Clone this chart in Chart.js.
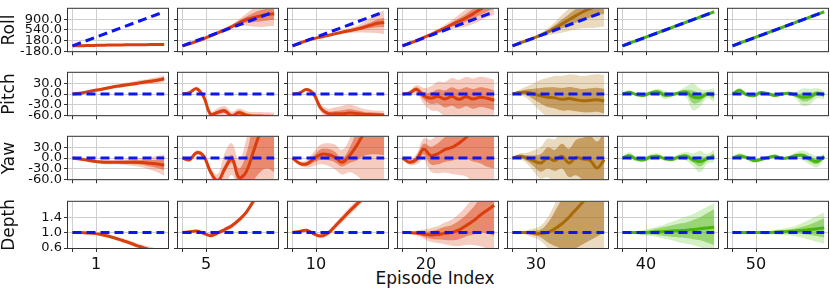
<!DOCTYPE html>
<html>
<head>
<meta charset="utf-8">
<script src="https://cdn.jsdelivr.net/npm/chart.js@4.4.0/dist/chart.umd.min.js"></script>
<style>
  html, body { margin: 0; padding: 0; background: #fff; }
  #grid { position: relative; width: 830px; height: 289px; overflow: hidden; }
  #grid canvas { position: absolute; }
  #xlabel { position: absolute; left: 335px; top: 268px; width: 200px; text-align: center;
            font: 17px "DejaVu Sans"; line-height: 20px; color: #111; }
</style>
</head>
<body>
<div id="grid"><div id="xlabel">Episode Index</div></div>
<script>
"use strict";

const EPISODES = ["1", "5", "10", "20", "30", "40", "50"];
const STEPS = [0, 3, 6, 9, 12, 15, 18, 21, 24, 27, 30, 33, 36, 39];
const REF_STEPS = [0, 39];
const STEP_TICKS = [0, 10];

const ROLL_TICKS = [-180, 180, 540, 900];
const ANGLE_TICKS = [-60, -30, 0, 30];
const DEPTH_TICKS = [0.6, 1.0, 1.4];

// blue dashed reference per row
const rollRef = [0, 1150];
const pitchRef = [0, 0];
const yawRef = [0, 0];
const depthRef = [1, 1];

// roll: mean, inner half-width, outer half-width
const rollMean_1 = [0, 5, 10, 15, 20, 25, 30, 32, 35, 38, 40, 42, 44, 45];
const rollInner_1 = [0, 3, 4, 5, 6, 6, 7, 7, 8, 8, 9, 9, 10, 10];
const rollOuter_1 = [0, 6, 8, 10, 12, 12, 14, 14, 16, 16, 18, 18, 20, 20];
const rollMean_5 = [0, 70, 150, 240, 340, 440, 540, 650, 780, 880, 950, 1010, 1055, 1080];
const rollInner_5 = [0, 5, 8, 10, 15, 20, 25, 35, 60, 100, 150, 190, 200, 200];
const rollOuter_5 = [0, 10, 15, 20, 30, 40, 55, 75, 120, 200, 300, 380, 400, 400];
const rollMean_10 = [0, 85, 175, 245, 300, 350, 405, 460, 510, 560, 620, 690, 760, 790];
const rollInner_10 = [0, 5, 8, 10, 12, 15, 20, 25, 35, 50, 70, 100, 130, 150];
const rollOuter_10 = [0, 10, 15, 20, 25, 30, 40, 55, 80, 110, 170, 250, 330, 400];
const rollMean_20 = [0, 85, 175, 280, 380, 490, 600, 720, 830, 945, 1080, 1230, 1380, 1500];
const rollInner_20 = [0, 5, 10, 15, 25, 35, 50, 70, 100, 130, 160, 190, 220, 250];
const rollOuter_20 = [0, 10, 20, 35, 55, 75, 110, 150, 220, 290, 340, 380, 420, 450];
const rollMean_30 = [0, 88, 176, 264, 360, 470, 600, 740, 880, 1020, 1150, 1260, 1360, 1450];
const rollInner_30 = [0, 5, 10, 20, 35, 60, 100, 150, 190, 230, 270, 310, 340, 370];
const rollOuter_30 = [0, 10, 20, 40, 70, 120, 200, 300, 380, 460, 560, 660, 740, 800];
const rollMean_40 = [0, 88, 177, 265, 354, 442, 531, 619, 708, 796, 885, 973, 1062, 1150];
const rollInner_40 = [0, 1, 2, 2, 3, 3, 4, 4, 5, 5, 6, 6, 7, 7];
const rollOuter_40 = [0, 2, 4, 4, 6, 6, 8, 8, 10, 10, 12, 12, 14, 14];
const rollMean_50 = [0, 88, 177, 265, 354, 442, 531, 619, 708, 796, 885, 973, 1062, 1150];
const rollInner_50 = [0, 1, 2, 2, 3, 3, 4, 4, 5, 5, 6, 6, 7, 7];
const rollOuter_50 = [0, 2, 4, 4, 6, 6, 8, 8, 10, 10, 12, 12, 14, 14];

// pitch
const pitchMean_1 = [0, 2, 6, 10, 13, 17, 21, 24, 27, 30, 33, 36, 39, 43];
const pitchInner_1 = [0, 1, 1.5, 2, 2, 2.5, 3, 3, 3, 3.5, 4, 4, 4.5, 5];
const pitchOuter_1 = [0, 2, 3, 4, 4, 5, 5, 6, 6, 7, 7, 8, 9, 10];
const pitchMean_5 = [0, 4, 15, -8, -58, -52, -48, -62, -53, -60, -63, -63, -64, -65];
const pitchInner_5 = [0, 2, 3, 4, 5, 6, 6, 6, 6, 6, 6, 6, 6, 6];
const pitchOuter_5 = [0, 3, 5, 7, 9, 12, 14, 12, 12, 12, 12, 12, 12, 12];
const pitchMean_10 = [0, 3, 13, 0, -40, -55, -56, -56, -54, -55, -57, -58, -59, -60];
const pitchInner_10 = [0, 1, 2, 4, 5, 6, 8, 10, 11, 9, 7, 6, 6, 6];
const pitchOuter_10 = [0, 2, 4, 7, 10, 14, 18, 22, 24, 20, 15, 13, 12, 12];
const pitchMean_20 = [0, 3, 13, -5, -12, -7, -14, -7, -15, -8, -14, -9, -12, -18];
const pitchInner_20 = [0, 3, 6, 10, 16, 20, 24, 26, 27, 27, 28, 28, 28, 28];
const pitchOuter_20 = [0, 6, 12, 22, 34, 42, 48, 52, 55, 56, 58, 58, 58, 58];
const pitchMean_30 = [0, 4, 5, 0, -5, -9, -11, -15, -13, -16, -19, -18, -16, -20];
const pitchInner_30 = [0, 4, 8, 15, 22, 28, 30, 32, 33, 33, 33, 34, 34, 35];
const pitchOuter_30 = [0, 8, 16, 30, 45, 55, 62, 66, 68, 70, 70, 72, 72, 74];
const pitchMean_40 = [0, 5, -2, -4, 3, 6, -3, -2, 3, 6, -8, -10, 0, -3];
const pitchInner_40 = [1, 3, 2, 2, 3, 5, 6, 3, 3, 6, 18, 12, 6, 10];
const pitchOuter_40 = [2, 5, 4, 4, 6, 9, 12, 6, 7, 15, 38, 25, 12, 20];
const pitchMean_50 = [0, 10, -2, -5, 4, 1, -4, 0, 2, -4, -9, -7, 2, -3];
const pitchInner_50 = [1, 4, 3, 2, 2, 2, 2, 2, 2, 4, 12, 10, 6, 6];
const pitchOuter_50 = [2, 8, 5, 4, 4, 4, 4, 4, 5, 10, 25, 22, 14, 12];

// yaw
const yawMean_1 = [0, -3, -6, -9, -11, -12, -12, -12, -12, -12, -13, -15, -17, -20];
const yawInner_1 = [0, 1, 2, 2, 3, 3, 3, 4, 5, 6, 7, 9, 11, 14];
const yawOuter_1 = [0, 2, 3, 4, 5, 6, 6, 7, 9, 11, 14, 18, 23, 30];
const yawMean_5 = [0, -5, 15, 5, -40, -65, -30, -3, -55, -40, 15, 70, 100, 110];
const yawInner_5 = [0, 2, 3, 4, 6, 8, 10, 12, 25, 50, 80, 110, 130, 150];
const yawOuter_5 = [0, 4, 6, 8, 12, 20, 45, 45, 50, 90, 130, 160, 180, 200];
const yawMean_10 = [0, -15, -17, -3, 10, 10, 3, -12, 5, 32, 65, 85, 95, 100];
const yawInner_10 = [0, 3, 5, 10, 15, 16, 15, 12, 20, 40, 60, 75, 85, 92];
const yawOuter_10 = [0, 6, 10, 20, 28, 32, 35, 35, 45, 80, 130, 160, 170, 175];
const yawMean_20 = [0, -12, -3, 25, 7, 12, 24, 30, 42, 58, 80, 95, 105, 110];
const yawInner_20 = [0, 4, 8, 15, 25, 30, 35, 38, 45, 60, 90, 110, 130, 140];
const yawOuter_20 = [0, 8, 15, 30, 45, 55, 65, 75, 90, 110, 150, 180, 200, 210];
const yawMean_30 = [0, 5, 0, -8, -14, 0, -7, 5, -14, 1, -3, -7, -28, -5];
const yawInner_30 = [0, 4, 8, 15, 25, 30, 30, 35, 40, 50, 60, 70, 75, 80];
const yawOuter_30 = [0, 8, 15, 30, 45, 55, 60, 70, 80, 90, 100, 110, 120, 130];
const yawMean_40 = [0, 6, -3, -5, 3, 5, -2, -4, 3, 5, -5, -10, -2, 6];
const yawInner_40 = [1, 5, 3, 3, 4, 4, 3, 3, 4, 6, 8, 14, 6, 8];
const yawOuter_40 = [2, 10, 6, 6, 8, 8, 6, 6, 8, 12, 18, 30, 14, 18];
const yawMean_50 = [0, 6, 1, -7, -4, 1, 5, -1, 1, 7, 7, -3, -10, 4];
const yawInner_50 = [1, 4, 3, 4, 3, 2, 3, 2, 2, 4, 6, 8, 8, 4];
const yawOuter_50 = [2, 8, 6, 7, 5, 4, 6, 4, 5, 9, 14, 16, 16, 8];

// depth
const depthMean_1 = [1.0, 1.0, 0.99, 0.98, 0.95, 0.91, 0.86, 0.80, 0.74, 0.67, 0.61, 0.55, 0.5, 0.45];
const depthInner_1 = [0, 0.005, 0.01, 0.01, 0.015, 0.02, 0.02, 0.025, 0.03, 0.03, 0.035, 0.04, 0.04, 0.045];
const depthOuter_1 = [0, 0.01, 0.02, 0.02, 0.03, 0.04, 0.04, 0.05, 0.06, 0.06, 0.07, 0.08, 0.08, 0.09];
const depthMean_5 = [1.0, 1.02, 1.04, 0.98, 0.92, 0.99, 1.08, 1.18, 1.33, 1.52, 1.8, 2.05, 2.3, 2.5];
const depthInner_5 = [0, 0.01, 0.01, 0.015, 0.02, 0.02, 0.025, 0.03, 0.03, 0.035, 0.04, 0.04, 0.045, 0.05];
const depthOuter_5 = [0, 0.02, 0.02, 0.03, 0.04, 0.04, 0.05, 0.06, 0.06, 0.07, 0.08, 0.08, 0.09, 0.1];
const depthMean_10 = [1.0, 1.03, 1.06, 0.97, 0.91, 0.98, 1.16, 1.35, 1.54, 1.72, 1.9, 2.1, 2.3, 2.5];
const depthInner_10 = [0, 0.01, 0.01, 0.02, 0.02, 0.03, 0.04, 0.04, 0.05, 0.05, 0.05, 0.05, 0.05, 0.05];
const depthOuter_10 = [0, 0.02, 0.03, 0.04, 0.05, 0.06, 0.08, 0.09, 0.1, 0.1, 0.1, 0.1, 0.1, 0.1];
const depthMean_20 = [1.0, 1.0, 0.99, 0.96, 0.94, 0.95, 0.98, 1.0, 1.07, 1.18, 1.3, 1.45, 1.58, 1.71];
const depthInner_20 = [0, 0.01, 0.03, 0.06, 0.1, 0.13, 0.17, 0.2, 0.24, 0.28, 0.35, 0.45, 0.6, 0.8];
const depthOuter_20 = [0, 0.02, 0.06, 0.12, 0.18, 0.22, 0.28, 0.34, 0.42, 0.5, 0.62, 0.8, 1.0, 1.2];
const depthMean_30 = [1.0, 1.0, 1.0, 0.99, 0.98, 1.0, 1.1, 1.23, 1.4, 1.6, 1.8, 2.0, 2.2, 2.4];
const depthInner_30 = [0, 0.01, 0.03, 0.06, 0.1, 0.25, 0.45, 0.65, 0.85, 1.0, 1.1, 1.2, 1.3, 1.4];
const depthOuter_30 = [0, 0.02, 0.06, 0.12, 0.2, 0.4, 0.65, 0.9, 1.1, 1.3, 1.5, 1.6, 1.7, 1.8];
const depthMean_40 = [1.0, 1.0, 1.0, 1.0, 1.01, 1.02, 1.03, 1.04, 1.05, 1.06, 1.08, 1.1, 1.12, 1.14];
const depthInner_40 = [0, 0.01, 0.02, 0.04, 0.06, 0.09, 0.12, 0.15, 0.18, 0.2, 0.25, 0.3, 0.38, 0.47];
const depthOuter_40 = [0, 0.02, 0.04, 0.07, 0.1, 0.14, 0.19, 0.24, 0.3, 0.35, 0.4, 0.48, 0.55, 0.62];
const depthMean_50 = [1.0, 1.0, 1.0, 1.0, 1.0, 1.0, 1.01, 1.02, 1.03, 1.04, 1.06, 1.08, 1.1, 1.12];
const depthInner_50 = [0, 0, 0, 0.01, 0.01, 0.02, 0.03, 0.04, 0.05, 0.07, 0.1, 0.14, 0.19, 0.25];
const depthOuter_50 = [0, 0, 0.01, 0.02, 0.03, 0.04, 0.06, 0.08, 0.1, 0.14, 0.2, 0.27, 0.34, 0.41];

const ROWS = [
  { name: "Roll", ticks: ROLL_TICKS, min: -180, max: 1250, ref: rollRef, series: [
    [rollMean_1, rollInner_1, rollOuter_1], [rollMean_5, rollInner_5, rollOuter_5],
    [rollMean_10, rollInner_10, rollOuter_10], [rollMean_20, rollInner_20, rollOuter_20],
    [rollMean_30, rollInner_30, rollOuter_30], [rollMean_40, rollInner_40, rollOuter_40],
    [rollMean_50, rollInner_50, rollOuter_50]] },
  { name: "Pitch", ticks: ANGLE_TICKS, min: -60, max: 60, ref: pitchRef, series: [
    [pitchMean_1, pitchInner_1, pitchOuter_1], [pitchMean_5, pitchInner_5, pitchOuter_5],
    [pitchMean_10, pitchInner_10, pitchOuter_10], [pitchMean_20, pitchInner_20, pitchOuter_20],
    [pitchMean_30, pitchInner_30, pitchOuter_30], [pitchMean_40, pitchInner_40, pitchOuter_40],
    [pitchMean_50, pitchInner_50, pitchOuter_50]] },
  { name: "Yaw", ticks: ANGLE_TICKS, min: -60, max: 60, ref: yawRef, series: [
    [yawMean_1, yawInner_1, yawOuter_1], [yawMean_5, yawInner_5, yawOuter_5],
    [yawMean_10, yawInner_10, yawOuter_10], [yawMean_20, yawInner_20, yawOuter_20],
    [yawMean_30, yawInner_30, yawOuter_30], [yawMean_40, yawInner_40, yawOuter_40],
    [yawMean_50, yawInner_50, yawOuter_50]] },
  { name: "Depth", ticks: DEPTH_TICKS, min: 0.6, max: 1.8, ref: depthRef, series: [
    [depthMean_1, depthInner_1, depthOuter_1], [depthMean_5, depthInner_5, depthOuter_5],
    [depthMean_10, depthInner_10, depthOuter_10], [depthMean_20, depthInner_20, depthOuter_20],
    [depthMean_30, depthInner_30, depthOuter_30], [depthMean_40, depthInner_40, depthOuter_40],
    [depthMean_50, depthInner_50, depthOuter_50]] },
];

const RED = { line: "rgb(218,62,14)", inner: "rgba(220,70,25,0.5)", outer: "rgba(228,85,45,0.3)" };
const BROWN = { line: "rgb(168,106,10)", inner: "rgba(170,110,20,0.55)", outer: "rgba(190,140,60,0.32)" };
const GREEN = { line: "rgb(72,180,18)", inner: "rgba(80,185,20,0.45)", outer: "rgba(100,200,45,0.28)" };
const PALETTE = [RED, RED, RED, RED, BROWN, GREEN, GREEN];
const BLUE = "rgb(12,22,245)";
const GRID = "#cfcfcf";
const SPINE = "#333";
const FONT = "DejaVu Sans";

const COL_LEFT = 68, COL_STEP = 110, PANEL_W = 100, PANEL_H = 53;
const ROW_TOP = [2, 66, 130, 195];

const frame = {
  id: "frame",
  afterDraw(chart) {
    const { ctx, chartArea: a } = chart;
    ctx.save();
    ctx.strokeStyle = SPINE;
    ctx.lineWidth = 1;
    ctx.strokeRect(a.left - 0.5, a.top - 0.5, a.right - a.left + 1, a.bottom - a.top + 1);
    ctx.restore();
  }
};

function makePanel(row, r, c) {
  const [mean, inner, outer] = row.series[c];
  const first = c === 0;
  const last = r === ROWS.length - 1;
  const yw = first ? COL_LEFT : 6;
  const xh = last ? 30 : 6;

  const canvas = document.createElement("canvas");
  canvas.width = yw + PANEL_W + 3;
  canvas.height = 3 + PANEL_H + xh;
  canvas.style.left = `${COL_LEFT + c * COL_STEP - yw}px`;
  canvas.style.top = `${ROW_TOP[r] - 3}px`;
  document.getElementById("grid").appendChild(canvas);

  const col = PALETTE[c];
  const pts = (sign, half) => STEPS.map((x, i) => ({ x, y: mean[i] + sign * (half ? half[i] : 0) }));
  const band = (data, fill, bg) => ({
    data, fill, backgroundColor: bg, borderWidth: 0, pointRadius: 0, tension: 0.4, clip: 0,
  });

  new Chart(canvas, {
    type: "line",
    data: {
      datasets: [
        { data: REF_STEPS.map((x, i) => ({ x, y: row.ref[i] })), borderColor: BLUE, borderWidth: 3,
          borderDash: [9, 5], pointRadius: 0, fill: false, clip: 0 },
        { data: pts(0), borderColor: col.line, borderWidth: 3, pointRadius: 0, tension: 0.4, fill: false, clip: 0 },
        band(pts(-1, inner), "+1", col.inner),
        band(pts(1, inner), false, "transparent"),
        band(pts(-1, outer), "+1", col.outer),
        band(pts(1, outer), false, "transparent"),
      ],
    },
    options: {
      responsive: false,
      animation: false,
      events: [],
      layout: { padding: { top: 3, right: 3, left: 0, bottom: 0 } },
      plugins: { legend: { display: false }, tooltip: { enabled: false } },
      scales: {
        x: {
          type: "linear", min: -1.9, max: 40.6,
          afterBuildTicks: s => { s.ticks = STEP_TICKS.map(value => ({ value })); },
          afterFit: s => { s.height = xh; },
          grid: { color: GRID, tickColor: SPINE, tickLength: 4 },
          border: { display: false },
          ticks: { padding: 3, maxRotation: 0, autoSkip: false, color: "#111",
            font: { family: FONT, size: 16 },
            callback: v => (last && v === 10 ? EPISODES[c] : "") },
        },
        y: {
          type: "linear", min: row.min, max: row.max,
          afterBuildTicks: s => { s.ticks = row.ticks.map(value => ({ value })); },
          afterFit: s => { s.width = yw; },
          grid: { color: GRID, tickColor: SPINE, tickLength: 4 },
          border: { display: false },
          ticks: { padding: 2, autoSkip: false, color: "#111", font: { family: FONT, size: 13 },
            callback: v => (first ? v.toFixed(1) : "") },
          title: { display: first, text: row.name, color: "#111", padding: 0,
            font: { family: FONT, size: 17, lineHeight: 1.1 } },
        },
      },
    },
    plugins: [frame],
  });
}

ROWS.forEach((row, r) => EPISODES.forEach((_, c) => makePanel(row, r, c)));
</script>
</body>
</html>
